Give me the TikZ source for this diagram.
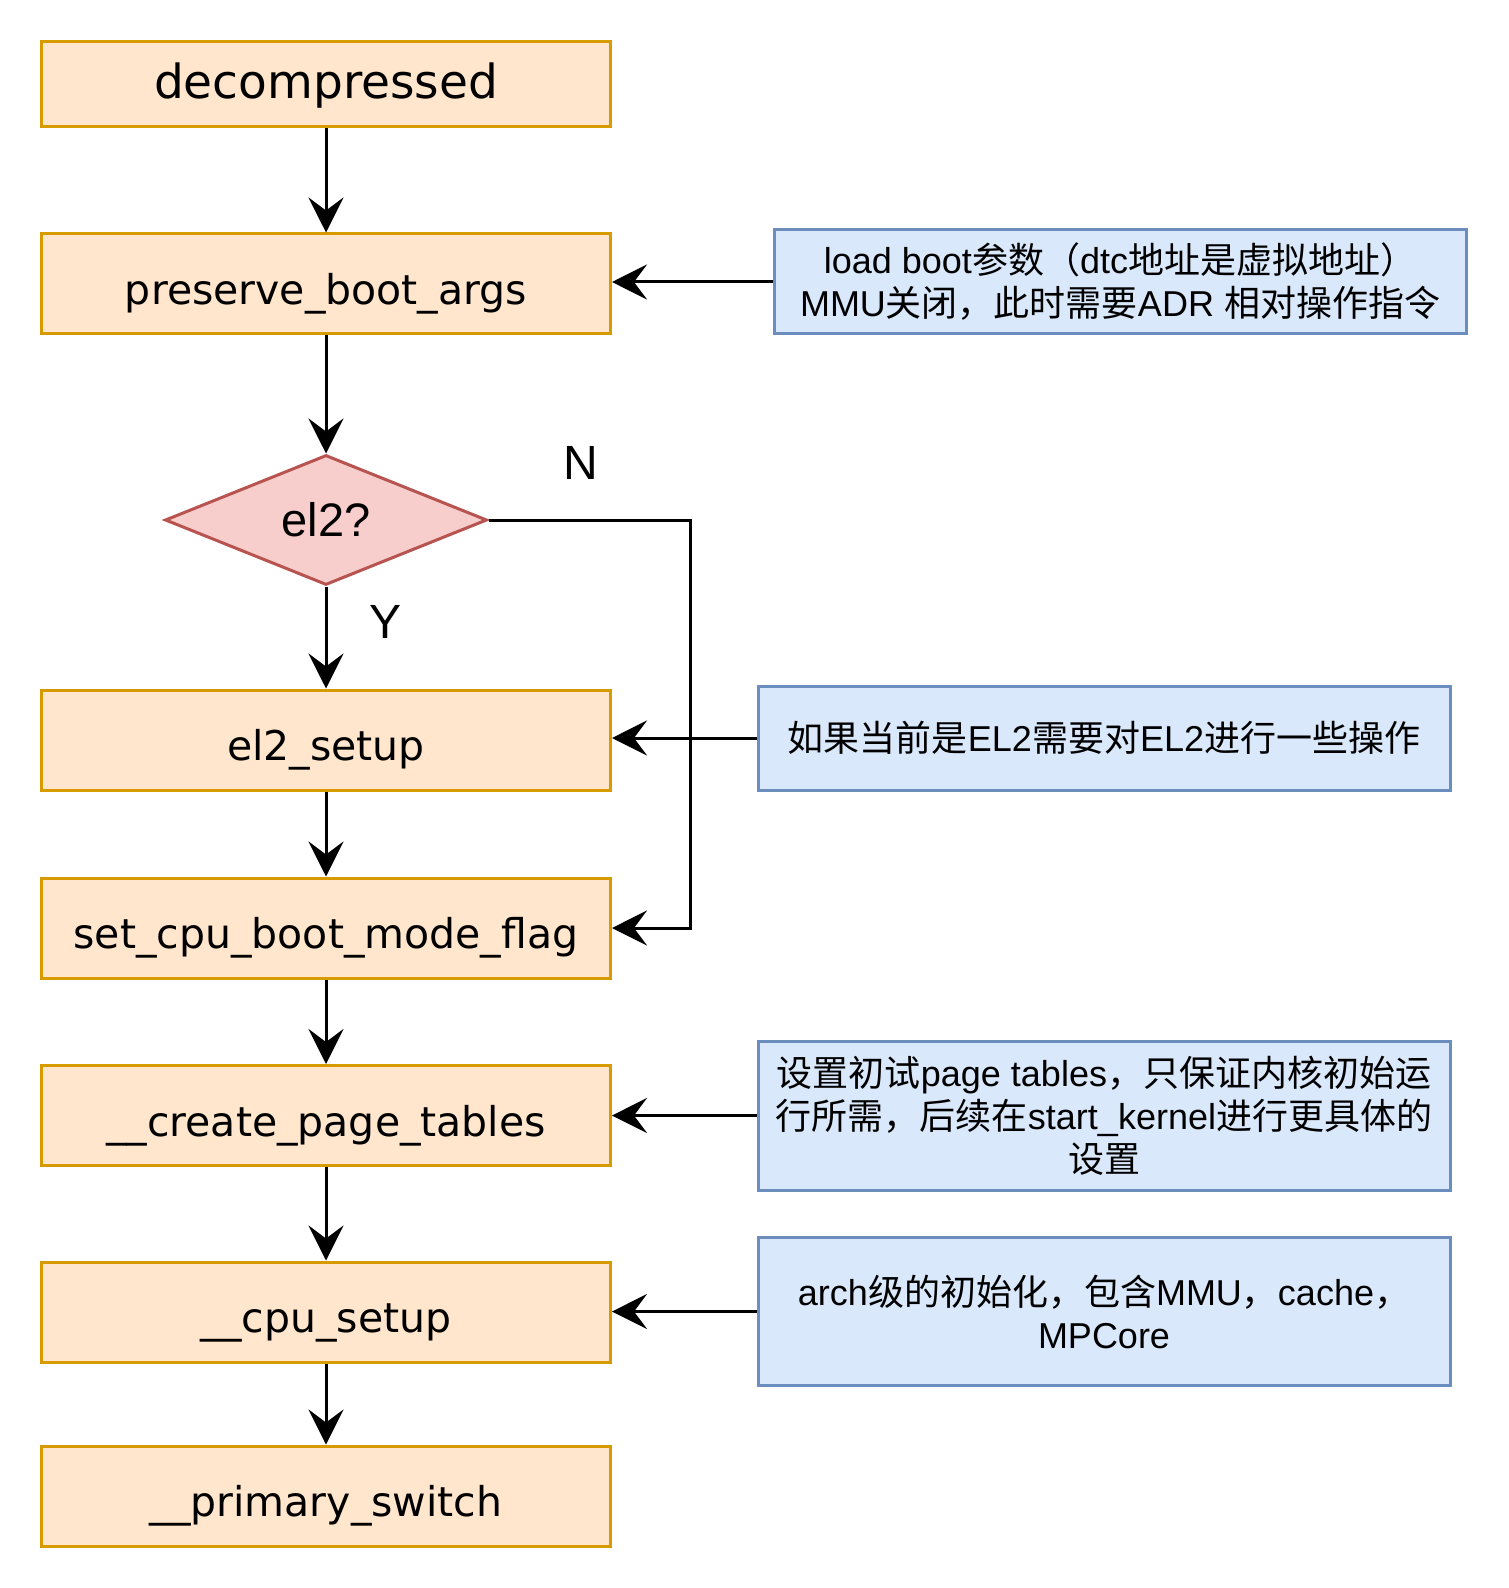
\documentclass[tikz,border=0pt]{standalone}
\usepackage{fontspec}
\setmainfont{DejaVu Sans}
\newfontfamily\helv{Liberation Sans}
\newfontfamily\cjk{Noto Sans CJK SC}
\usepackage{xcolor}
\usepackage{tikz}
\usetikzlibrary{arrows.meta, shapes.geometric}
\definecolor{stepfill}{HTML}{FFE6CC}
\definecolor{stepline}{HTML}{D79B00}
\definecolor{notefill}{HTML}{DAE8FC}
\definecolor{noteline}{HTML}{6C8EBF}
\definecolor{testfill}{HTML}{F8CECC}
\definecolor{testline}{HTML}{B85450}
\newcommand{\hv}[1]{{\helv #1}}

\begin{document}
\begin{tikzpicture}[
  x=0.5pt, y=-0.5pt,
  >={Stealth[length=17.5pt, width=17.5pt, inset=6.5pt]},
  stepbox/.style={draw=stepline, fill=stepfill, line width=1.5pt, minimum width=284.5pt, minimum height=50pt, inner sep=0pt, text height=20.5pt, text depth=0pt, font=\fontsize{20.5}{24}\selectfont},
  notebox/.style={draw=noteline, fill=notefill, line width=1.5pt, minimum width=346pt, align=center, inner sep=0pt, font=\cjk\fontsize{18}{21.5}\selectfont},
  test/.style={diamond, draw=testline, fill=testfill, line width=1.5pt, minimum width=161pt, minimum height=65pt, inner sep=0pt, font=\helv\fontsize{23.5}{28}\selectfont},
  flow/.style={->, line width=1.5pt},
  branch/.style={font=\helv\fontsize{24}{28}\selectfont}
]
\useasboundingbox (0,0) rectangle (1508,1588);

% main flow
\node[stepbox, minimum height=42.5pt, text height=15pt, font=\fontsize{23.5}{28}\selectfont] (decomp) at (326,84) {decompressed};
\node[stepbox] (preserve) at (326,284) {preserve\_boot\_args};
\node[test] (isel2) at (326,520) {el2?};
\node[stepbox] (el2setup) at (326,740) {el2\_setup};
\node[stepbox] (bootflag) at (326,928) {set\_cpu\_boot\_mode\_flag};
\node[stepbox] (pgtables) at (326,1115.5) {\_\_create\_page\_tables};
\node[stepbox] (cpusetup) at (326,1312) {\_\_cpu\_setup};
\node[stepbox] (switch) at (326,1496) {\_\_primary\_switch};

\node[branch] (nlabel) at (581,463) {N};
\node[branch] (ylabel) at (386,622) {Y};
\coordinate (nturn) at (690,520);

% notes
\node[notebox, minimum height=52pt] (note1) at (1120,282) {\hv{load boot}参数（\hv{dtc}地址是虚拟地址）\\\hv{MMU}关闭，此时需要\hv{ADR }相对操作指令};
\node[notebox, minimum height=52pt] (note2) at (1104,738) {如果当前是\hv{EL2}需要对\hv{EL2}进行一些操作};
\node[notebox, minimum height=74.5pt] (note3) at (1104,1115.5) {设置初试\hv{page tables}，只保证内核初始运\\行所需，后续在\hv{start\_kernel}进行更具体的\\设置};
\node[notebox, minimum height=74pt] (note4) at (1104,1311.5) {\hv{arch}级的初始化，包含\hv{MMU}，\hv{cache}，\\\hv{MPCore}};

\draw[flow] (decomp) -- (preserve);
\draw[flow] (preserve) -- (isel2);
\draw[flow] (isel2) -- (el2setup);
\draw[flow] (el2setup) -- (bootflag);
\draw[flow] (bootflag) -- (pgtables);
\draw[flow] (pgtables) -- (cpusetup);
\draw[flow] (cpusetup) -- (switch);
\draw[flow] (isel2.east) -- (nturn) |- (bootflag.east);

\draw[flow] (note1.west) -- (note1.west -| preserve.east);
\draw[flow] (note2.west) -- (note2.west -| el2setup.east);
\draw[flow] (note3.west) -- (note3.west -| pgtables.east);
\draw[flow] (note4.west) -- (note4.west -| cpusetup.east);
\end{tikzpicture}
\end{document}
